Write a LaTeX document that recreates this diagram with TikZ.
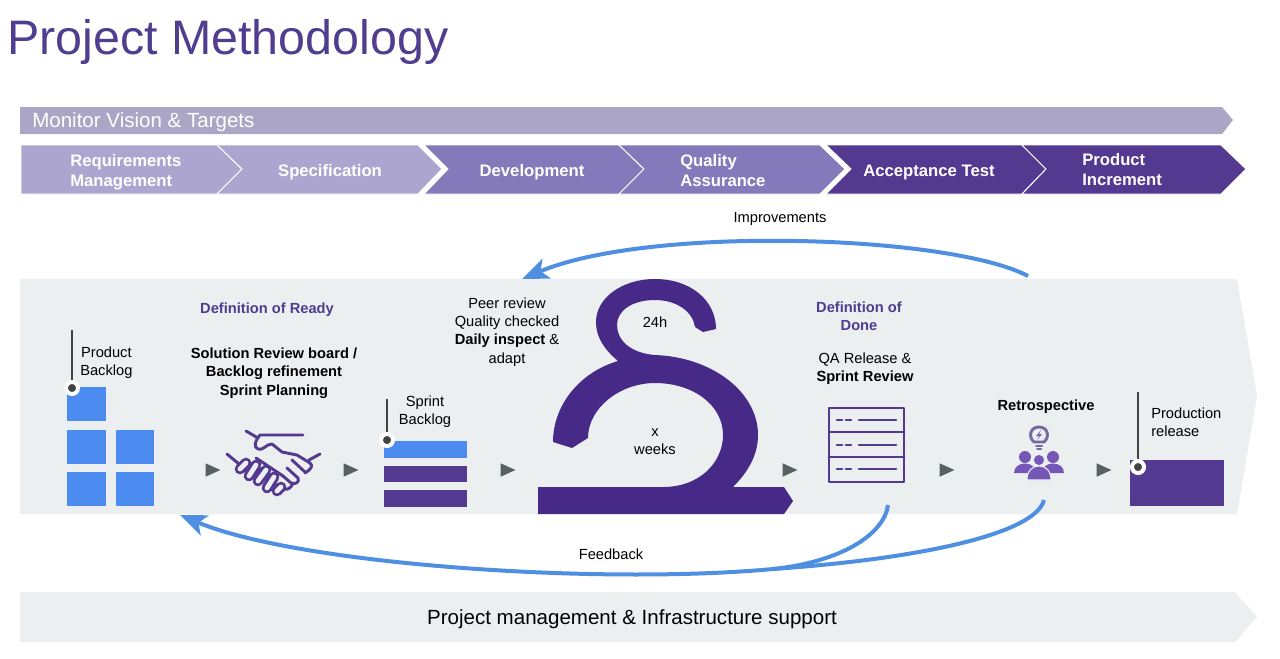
\documentclass[tikz,border=0pt]{standalone}
\usepackage{fontspec}
\setmainfont{Liberation Sans}
\usetikzlibrary{arrows.meta,shapes.geometric,positioning}
\definecolor{mytitle}{RGB}{79,61,143}
\definecolor{mybar}{RGB}{172,166,198}
\definecolor{mylilac}{RGB}{172,165,207}
\definecolor{mymauve}{RGB}{132,121,186}
\definecolor{mypurple}{RGB}{83,57,143}
\definecolor{myswirl}{RGB}{71,42,135}
\definecolor{myband}{RGB}{236,239,240}
\definecolor{myblue}{RGB}{76,139,240}
\definecolor{myflow}{RGB}{78,143,226}
\definecolor{mymarker}{RGB}{90,96,96}
\definecolor{mypeople}{RGB}{117,87,184}
\definecolor{mybulb}{RGB}{120,105,160}
\tikzstyle{chevron}=[draw=white,line width=0.7pt]
\tikzstyle{steplabel}=[text=white,inner sep=0pt,align=left,font=\fontsize{12.5}{15}\selectfont\bfseries]
\tikzstyle{label}=[text=black,inner sep=0pt,align=center,font=\fontsize{11}{13.7}\selectfont]
\tikzstyle{boldlabel}=[label,font=\fontsize{11}{13.7}\selectfont\bfseries]
\tikzstyle{headlabel}=[boldlabel,text=mytitle]
\tikzstyle{marker}=[isosceles triangle,isosceles triangle stretches,fill=mymarker,inner sep=0pt,minimum width=10pt,minimum height=11pt]
\tikzstyle{pin}=[circle,fill=mymarker!70!black,draw=white,line width=3pt,inner sep=0pt,minimum size=9pt]
\tikzstyle{leader}=[draw=mymarker!70!black,line width=1pt]
\tikzstyle{flow}=[draw=myflow,line width=3pt]
\tikzstyle{flowtip}=[-{Stealth[length=20pt,width=16pt,inset=5pt]}]
\tikzstyle{icon}=[draw=mypurple,line width=2.2pt,line cap=round,line join=round]
\begin{document}
\begin{tikzpicture}[x=0.75pt,y=-0.75pt]
\useasboundingbox (0,0) rectangle (1280,658);
\draw (7,42) node [anchor=west,inner sep=0pt,text=mytitle,font=\fontsize{36.3}{40}\selectfont] (title) {Project Methodology};
\fill[mybar] (20,107) -- (1222,107) -- (1233,120) -- (1222,134) -- (20,134) -- cycle;
\draw (32,122) node [anchor=west,inner sep=0pt,text=white,font=\fontsize{15.4}{18}\selectfont] (vision) {Monitor Vision \& Targets};
\fill[chevron,fill=mylilac] (21,145) -- (217,145) -- (242,169) -- (217,194) -- (21,194) -- cycle;
\fill[chevron,fill=mylilac] (217,145) -- (418,145) -- (442,169) -- (418,194) -- (217,194) -- (242,169) -- cycle;
\fill[chevron,fill=mymauve] (424,145) -- (619,145) -- (644,169) -- (619,194) -- (424,194) -- (448,169) -- cycle;
\fill[chevron,fill=mymauve] (619,145) -- (820,145) -- (845,169) -- (820,194) -- (619,194) -- (644,169) -- cycle;
\fill[chevron,fill=mypurple] (826,145) -- (1022,145) -- (1046,169) -- (1022,194) -- (826,194) -- (851,169) -- cycle;
\fill[chevron,fill=mypurple] (1022,145) -- (1221,145) -- (1246,169) -- (1221,194) -- (1022,194) -- (1046,169) -- cycle;
\draw (70,172) node [steplabel,anchor=west] (req) {Requirements\\Management};
\draw (330,172) node [steplabel] (spec) {Specification};
\draw (532,172) node [steplabel] (dev) {Development};
\draw (680,171) node [steplabel,anchor=west] (qa) {Quality\\Assurance};
\draw (929,172) node [steplabel] (accept) {Acceptance Test};
\draw (1082,170) node [steplabel,anchor=west] (incr) {Product\\Increment};
\fill[myband] (20,279) -- (1237,279) -- (1257,396) -- (1237,514) -- (20,514) -- cycle;
\fill[myband] (20,592) -- (1235,592) -- (1257,617) -- (1235,642) -- (20,642) -- cycle;
\draw (632,619) node [label,font=\fontsize{15.4}{18}\selectfont] (support) {Project management \& Infrastructure support};
\fill[myblue] (67,387) rectangle (106,421);
\fill[myblue] (67,430) rectangle (106,464);
\fill[myblue] (116,430) rectangle (154,464);
\fill[myblue] (67,472) rectangle (106,506);
\fill[myblue] (116,472) rectangle (154,506);
\draw (72,388) node [pin] (dot1) {};
\coordinate (top1) at (72,330);
\draw[leader] (top1) -- (dot1);
\draw (80,363) node [label,anchor=west] (product) {Product\\Backlog};
\fill[myblue] (384,441) rectangle (467,458);
\fill[mypurple] (384,466) rectangle (467,482);
\fill[mypurple] (384,490) rectangle (467,507);
\draw (387,440) node [pin] (dot2) {};
\coordinate (top2) at (387,399);
\draw[leader] (top2) -- (dot2);
\draw (425,412) node [label] (sprint) {Sprint\\Backlog};
\fill[mypurple] (1130,460) rectangle (1224,506);
\draw (1138,467) node [pin] (dot3) {};
\coordinate (top3) at (1138,392);
\draw[leader] (top3) -- (dot3);
\draw (1151,422) node [label,anchor=west,align=left] (release) {Production\\release};
\draw (210,470) node [marker] (m1) {};
\draw (348,470) node [marker] (m2) {};
\draw (505,470) node [marker] (m3) {};
\draw (787,470) node [marker] (m4) {};
\draw (944,470) node [marker] (m5) {};
\draw (1101,470) node [marker] (m6) {};
\fill[myswirl] (538,487) -- (663,487) .. controls (700,487) and (723,462) .. (723,435) .. controls (723,405) and (693,383) .. (655,383) .. controls (620,383) and (588,408) .. (588,438) -- (572,448) -- (553,442) .. controls (553,405) and (580,372) .. (618,361) .. controls (605,350) and (596,338) .. (596,322) .. controls (596,298) and (622,279) .. (655,279) .. controls (690,279) and (716,300) .. (716,329) -- (703,332) -- (695,327) .. controls (693,312) and (677,300) .. (655,300) .. controls (633,300) and (617,310) .. (617,325) .. controls (617,340) and (630,353) .. (655,355) .. controls (712,357) and (758,392) .. (758,435) .. controls (758,455) and (748,472) .. (733,487) -- (784,487) -- (793,501) -- (784,514) -- (538,514) -- cycle;
\draw (655,322) node [label] (day) {24h};
\draw (655,442) node [label] (weeks) {x\\weeks};
\draw (267,310) node [headlabel] (ready) {Definition of Ready};
\draw (274,373) node [boldlabel] (board) {Solution Review board /\\Backlog refinement\\Sprint Planning};
\draw (507,332) node [label] (peer) {Peer review\\Quality checked\\\textbf{Daily inspect} \&\\adapt};
\draw (859,316) node [headlabel] (done) {Definition of\\Done};
\draw (865,369) node [label] (qarel) {QA Release \&\\\textbf{Sprint Review}};
\draw (1046,407) node [boldlabel] (retro) {Retrospective};
\draw[icon] (246,431) -- (258,438);
\draw[icon] (303,435) -- (260,435) .. controls (255,441) and (253,447) .. (258,449) .. controls (263,451) and (266,444) .. (272,444) -- (282,452) -- (297,455) -- (310,463) .. controls (314,466) and (310,470) .. (305,473);
\draw[icon] (309,460) -- (320,454);
\draw[icon] (292,460) -- (305,472);
\draw[icon] (287,468) -- (298,478) .. controls (300,482) and (295,485) .. (291,483) -- (283,476);
\draw[icon] (293,483) .. controls (291,488) and (288,490) .. (284,489);
\draw[icon] (227,454) -- (239,464);
\draw[icon] (256,458) -- (283,476);
\draw[mypurple,line width=8pt,line cap=round] (240,469) -- (246,463) (249,476) -- (256,465) (258,481) -- (266,470) (267,488) -- (274,477) (277,491) -- (281,487);
\draw[myband,line width=3.6pt,line cap=round] (240,469) -- (246,463) (249,476) -- (256,465) (258,481) -- (266,470) (267,488) -- (274,477) (277,491) -- (281,487);
\draw[icon] (829,408) rectangle (904,482);
\draw[icon] (829,432) -- (904,432);
\draw[icon] (829,457) -- (904,457);
\draw[icon] (837,420) -- (842,420) (846,420) -- (851,420) (859,420) -- (896,420);
\draw[icon] (837,445) -- (842,445) (846,445) -- (851,445) (859,445) -- (896,445);
\draw[icon] (837,469) -- (842,469) (846,469) -- (851,469) (859,469) -- (896,469);
\draw[icon,draw=mybulb] (1034,442) .. controls (1028,437) and (1030,427) .. (1039,427) .. controls (1048,427) and (1050,437) .. (1044,442) -- cycle;
\draw[icon,draw=mybulb,line width=1.5pt] (1036,446) -- (1042,446) (1037,449) -- (1041,449);
\fill[mybulb] (1041,430) -- (1036,436) -- (1039,436) -- (1037,440) -- (1042,434) -- (1039,434) -- cycle;
\fill[mypeople] (1025,457) circle (6);
\fill[mypeople] (1053,457) circle (6);
\fill[mypeople] (1014,473) .. controls (1014,467) and (1019,463.5) .. (1025,463.5) .. controls (1031,463.5) and (1036,467) .. (1036,473) -- cycle;
\fill[mypeople] (1042,473) .. controls (1042,467) and (1047,463.5) .. (1053,463.5) .. controls (1059,463.5) and (1064,467) .. (1064,473) -- cycle;
\fill[mypeople,draw=myband,line width=0.8pt] (1027,480) .. controls (1027,471) and (1032,466) .. (1039,466) .. controls (1046,466) and (1051,471) .. (1051,480) -- cycle;
\fill[mypeople,draw=myband,line width=0.5pt] (1039,460) circle (5.5);
\coordinate (imp start) at (1028,276);
\coordinate (imp end) at (522,279);
\draw[flow,flowtip] (imp start) .. controls (950,235) and (650,225) .. (imp end);
\draw (780,219) node [label] (improve) {Improvements};
\coordinate (retro start) at (1044,500);
\coordinate (review start) at (888,505);
\coordinate (merge) at (773,569);
\coordinate (feed end) at (180,515);
\draw[flow] (retro start) .. controls (1036,532) and (930,558) .. (merge);
\draw[flow] (review start) .. controls (884,535) and (840,562) .. (merge);
\draw[flow,flowtip] (merge) .. controls (600,585) and (300,565) .. (feed end);
\draw (611,554) node [label] (feedback) {Feedback};
\end{tikzpicture}
\end{document}
